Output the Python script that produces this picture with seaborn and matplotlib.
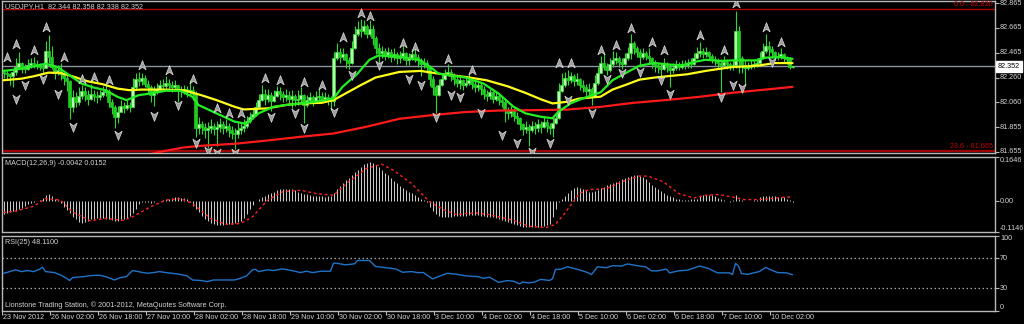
import numpy as np
import pandas as pd
import matplotlib
matplotlib.use("Agg")
import matplotlib.pyplot as plt
from matplotlib.path import Path
from matplotlib.transforms import blended_transform_factory
import seaborn as sns

# ---------------- data (prices in pips relative to 82.000, 1 pip = 0.001) -------------
open_first_pips = 310
close_pips = [
    300, 290, 270, 310, 350, 380, 340, 330, 360, 380, 370, 360, 350, 340, 480, 430,
    350, 300, 320, 290, 260, 230, 20, 100, 60, 110, 150, 120, 90, 130, 110, 100,
    120, 140, 150, 60, 20, -60, -20, 30, 10, 40, 20, 180, 250, 230, 260, 210,
    180, 120, 150, 170, 200, 190, 220, 200, 180, 200, 160, 150, 170, 140, 160, 130,
    -150, -120, -140, -170, -150, -130, -160, -140, -120, -150, -130, -170, -190, -200, -170, -150,
    -130, -90, -60, -40, 20, 80, 130, 90, 120, 70, 110, 150, 130, 100, 120, 90,
    110, 80, 90, 120, 40, 80, 100, 70, 100, 110, 90, 100, 80, 70, 420, 470,
    430, 450, 400, 380, 500, 620, 660, 640, 680, 620, 660, 580, 500, 460, 480, 440,
    470, 430, 450, 420, 430, 460, 400, 420, 450, 430, 400, 370, 380, 350, 250, 180,
    120, 200, 250, 290, 310, 270, 250, 220, 240, 200, 220, 240, 210, 180, 200, 170,
    130, 110, 140, 90, 110, 80, 60, 0, -30, -10, -50, -70, -120, -160, -140, -170,
    -130, -150, -120, -140, -100, -130, -150, -110, -70, 150, 200, 260, 240, 270, 230, 250,
    200, 180, 150, 170, 110, 220, 300, 380, 350, 320, 370, 400, 420, 390, 370, 420,
    460, 540, 500, 470, 430, 460, 440, 420, 380, 360, 350, 330, 370, 350, 320, 340,
    360, 350, 370, 360, 380, 370, 420, 460, 480, 450, 470, 440, 410, 400, 380, 360,
    390, 370, 350, 360, 640, 420, 360, 340, 350, 360, 370, 380, 420, 480, 520, 490,
    470, 440, 430, 450, 420, 410, 344, 352]
high_pips = [
    330, 320, 300, 330, 420, 470, 390, 370, 410, 420, 430, 400, 380, 370, 560, 610,
    520, 360, 360, 380, 300, 280, 240, 160, 140, 180, 200, 180, 160, 210, 160, 150,
    160, 190, 200, 170, 90, 40, 30, 80, 60, 80, 60, 260, 300, 310, 300, 280,
    240, 200, 190, 220, 240, 250, 270, 250, 230, 240, 200, 190, 200, 190, 240, 190,
    150, -60, -90, -110, -100, -80, -110, -90, -70, -90, -80, -110, -130, -150, -100, -110,
    -80, -50, -20, 10, 60, 130, 200, 170, 170, 140, 160, 190, 180, 150, 170, 150,
    160, 130, 160, 180, 130, 120, 140, 120, 150, 170, 140, 140, 130, 110, 470, 540,
    500, 500, 460, 430, 560, 680, 720, 740, 730, 700, 730, 690, 600, 540, 520, 500,
    510, 490, 500, 470, 480, 530, 470, 460, 490, 510, 450, 420, 420, 400, 360, 270,
    200, 250, 300, 330, 370, 330, 300, 280, 270, 250, 260, 300, 260, 230, 240, 220,
    190, 160, 170, 150, 150, 130, 110, 80, 20, 30, 10, -20, -60, -110, -90, -120,
    -90, -100, -80, -90, -50, -80, -110, -60, -30, 220, 300, 310, 320, 310, 290, 300,
    260, 240, 210, 220, 180, 280, 350, 440, 460, 380, 420, 480, 470, 440, 420, 460,
    510, 620, 560, 520, 490, 500, 480, 500, 430, 400, 390, 380, 420, 390, 370, 380,
    400, 390, 400, 400, 410, 420, 460, 510, 550, 500, 510, 480, 450, 440, 420, 410,
    440, 410, 390, 400, 806, 680, 440, 400, 390, 400, 400, 420, 470, 540, 620, 560,
    520, 480, 470, 500, 460, 440, 430, 358]
low_pips = [
    260, 240, 200, 180, 280, 330, 300, 300, 320, 340, 340, 330, 320, 300, 340, 380,
    330, 250, 280, 240, 200, 150, -80, -20, 20, 40, 90, 70, 40, 80, 70, 50,
    80, 100, 110, 20, -40, -150, -110, -10, -30, 0, -20, 20, 170, 190, 200, 180,
    130, 60, 30, 130, 150, 150, 170, 170, 140, 160, 60, 100, 130, 100, 120, 80,
    -220, -200, -200, -230, -310, -190, -210, -300, -180, -200, -180, -220, -240, -320, -230, -200,
    -180, -150, -110, -80, -50, 10, 70, 40, 60, -10, 60, 100, 80, 60, 70, 50,
    10, 30, 40, 60, -110, 20, 50, 30, 60, 70, 60, 70, 40, 0, 30, 400,
    380, 400, 340, 330, 370, 490, 600, 590, 620, 580, 600, 530, 450, 380, 420, 400,
    420, 390, 400, 370, 380, 400, 360, 360, 400, 390, 350, 270, 340, 300, 190, 120,
    -30, 110, 190, 240, 270, 230, 200, 180, 170, 160, 180, 200, 170, 140, 150, 120,
    90, 70, 90, 50, 70, 40, 20, -100, -80, -60, -90, -120, -170, -210, -190, -300,
    -180, -200, -180, -190, -150, -180, -200, -220, -120, -80, 140, 180, 200, 220, 190, 200,
    160, 140, 100, 120, 40, 100, 200, 300, 320, 280, 310, 350, 370, 350, 330, 360,
    400, 410, 450, 430, 350, 410, 400, 380, 340, 310, 300, 260, 320, 310, 180, 300,
    320, 320, 330, 330, 340, 340, 360, 410, 430, 420, 430, 410, 380, 360, 340, 140,
    350, 330, 320, 320, 340, 300, 300, 200, 320, 330, 340, 350, 370, 410, 460, 440,
    420, 400, 400, 410, 390, 370, 330, 338]

# moving averages (bar index, pips)
ma_fast_bars = [0, 6, 10, 14, 18, 22, 26, 30, 34, 38, 41, 45, 49, 54, 59, 63, 65, 71, 77, 81,
                85, 90, 94, 99, 104, 110, 113, 118, 122, 125, 132, 139, 143, 145, 154, 160, 165, 170, 174, 179,
                183, 185, 189, 193, 199, 203, 208, 212, 217, 221, 226, 230, 234, 239, 243, 248, 251, 254, 259, 263]
ma_fast_vals = [315, 333, 352, 374, 347, 280, 212, 180, 158, 104, 77, 117, 131, 153, 153, 104, 37, -31, -98, -117,
                -31, 23, 37, 50, 64, 90, 185, 293, 406, 441, 433, 401, 333, 293, 261, 212, 131, 23, -31, -58,
                -71, -17, 50, 90, 140, 239, 306, 358, 379, 369, 360, 387, 406, 396, 401, 401, 401, 423, 428, 414]
ma_slow_bars = [0, 6, 10, 15, 19, 23, 28, 33, 38, 42, 46, 53, 60, 66, 71, 77, 80, 88, 94, 99,
                106, 110, 114, 119, 124, 132, 139, 145, 154, 161, 168, 174, 179, 183, 188, 192, 199, 203, 208, 212,
                217, 221, 228, 234, 239, 243, 248, 252, 257, 263]
ma_slow_vals = [239, 252, 271, 301, 298, 271, 231, 207, 171, 158, 163, 163, 158, 117, 77, 23, 1, 10, 37, 50,
                55, 77, 131, 198, 261, 307, 315, 293, 266, 239, 190, 136, 85, 50, 64, 90, 105, 163, 207, 244,
                261, 271, 288, 315, 333, 347, 352, 360, 379, 379]
ma_long_bars = [40, 48, 53, 60, 66, 77, 88, 99, 110, 121, 132, 143, 154, 165, 176, 188, 199, 210, 221, 232, 243, 254, 263]
ma_long_vals = [-400, -368, -341, -309, -295, -279, -252, -222, -195, -140, -75, -45, -20, -8, -5, 0, 22, 55, 78, 104, 137, 163, 185]

# fractals (bar index, pips)
fractal_up_bars = [1, 4, 10, 14, 20, 26, 30, 35, 46, 55, 63, 71, 75, 79, 87, 92, 100, 106, 113, 119, 122,
                   133, 137, 148, 156, 185, 189, 199, 204, 209, 216, 220, 232, 240, 244, 254, 259]
fractal_up_vals = [428, 536, 482, 671, 428, 252, 266, 239, 360, 320, 252, 10, -31, -26, 261, 244, 225, 199, 592, 784, 765,
                   544, 509, 415, 320, 379, 379, 482, 523, 663, 550, 482, 609, 482, 865, 676, 550]
fractal_dn_bars = [4, 7, 13, 18, 23, 38, 50, 58, 64, 68, 71, 77, 89, 97, 100, 110, 116, 125, 135, 139, 144,
                   149, 152, 159, 166, 171, 176, 182, 188, 196, 201, 206, 212, 219, 222, 239, 243, 246, 256]
fractal_dn_vals = [90, 198, 252, 131, -139, -206, -53, 37, -274, -341, -350, -355, -58, -31, -152, -17, 280, 360, 252, 198, -63,
                   117, 104, -31, -206, -274, -347, -274, 82, -26, 250, 298, 307, 239, 126, 104, 198, 172, 387]

# MACD histogram (per bar, in 0.001) and signal line (bar, 0.001)
macd_hist = [
    -46, -44, -42, -38, -35, -30, -25, -18, -12, -6, -2, 2, 4, 12, 22, 28,
    20, 10, 4, -8, -20, -32, -45, -58, -68, -76, -80, -78, -72, -68, -66, -64,
    -62, -64, -66, -68, -70, -72, -74, -70, -66, -62, -56, -45, -28, -12, -4, -2,
    -4, -6, -3, 0, 2, 6, 8, 10, 12, 14, 14, 13, 12, 8, -4, -18,
    -30, -42, -55, -66, -74, -80, -86, -88, -89, -88, -86, -85, -84, -82, -78, -74,
    -62, -46, -30, -14, 2, 10, 16, 20, 26, 30, 34, 40, 44, 46, 47, 46,
    44, 40, 36, 32, 28, 26, 22, 20, 19, 18, 18, 17, 18, 20, 30, 45,
    55, 66, 78, 88, 98, 108, 118, 128, 138, 144, 146, 144, 136, 126, 116, 106,
    96, 86, 76, 66, 58, 50, 42, 36, 30, 22, 16, 10, 4, -4, -22, -38,
    -48, -54, -58, -60, -60, -58, -56, -54, -54, -56, -54, -52, -50, -50, -52, -54,
    -56, -58, -58, -60, -62, -66, -70, -74, -78, -80, -84, -88, -92, -95, -96, -96,
    -96, -96, -95, -94, -92, -88, -84, -60, -30, -4, 8, 20, 32, 42, 50, 52,
    50, 46, 40, 36, 34, 38, 42, 48, 54, 60, 64, 68, 72, 76, 82, 86,
    90, 94, 96, 96, 94, 90, 82, 72, 62, 54, 46, 38, 30, 24, 18, 14,
    10, 8, 6, 6, 6, 8, 8, 10, 18, 22, 24, 24, 22, 20, 12, 8,
    4, 2, -2, 4, 24, 10, 4, 2, 0, 2, 4, 4, 14, 18, 20, 20,
    18, 18, 16, 16, 14, 8, 4, -4]
signal_bars = [0, 4, 10, 14, 19, 23, 29, 34, 40, 43, 49, 54, 59, 63, 69, 74, 79, 83, 88, 93,
               99, 104, 110, 115, 121, 126, 130, 136, 142, 147, 151, 157, 162, 170, 175, 181, 184, 187, 192, 195,
               201, 206, 212, 215, 220, 225, 230, 234, 238, 243, 247, 252, 256, 261, 263]
signal_vals = [-42, -37, -19, 10, 4, -40, -73, -64, -71, -58, -21, 4, 10, -9, -64, -86, -83, -58, 4, 35,
               41, 29, 22, 72, 122, 138, 115, 66, -2, -33, -50, -43, -50, -71, -93, -98, -86, -46, 29, 43,
               47, 72, 94, 93, 72, 29, 12, 22, 25, 16, 6, 6, 10, 16, 15]

# RSI(25) (bar, value)
rsi_bars = [0, 1, 4, 6, 8, 10, 12, 13, 14, 17, 19, 21, 22, 23, 27, 29, 32, 34, 37, 39,
            41, 43, 46, 48, 50, 52, 54, 58, 61, 63, 66, 68, 70, 72, 77, 79, 81, 83, 84, 85,
            88, 90, 93, 96, 99, 101, 103, 106, 109, 110, 111, 114, 117, 118, 120, 122, 124, 127, 129, 131,
            133, 136, 138, 140, 143, 145, 148, 151, 154, 158, 160, 162, 165, 168, 170, 172, 173, 175, 177, 179,
            182, 183, 184, 186, 188, 191, 193, 195, 196, 198, 201, 203, 206, 208, 212, 214, 216, 218, 221, 222,
            225, 228, 232, 235, 238, 242, 243, 244, 245, 246, 248, 252, 254, 256, 258, 261, 263]
rsi_vals = [50, 50.9, 54.5, 52.2, 53.6, 52.2, 55.3, 58, 52.2, 50.9, 47.8, 43.4, 40.3, 44.2, 45.6, 46.9, 47.4, 45.6, 41.1, 44.2,
            45.6, 53.6, 51.3, 50, 50.9, 52.2, 50.9, 49.1, 46.9, 41.1, 40.3, 38.9, 41.1, 41.1, 41.1, 43.4, 46.5, 54.5, 55.3, 52.2,
            54.5, 53.6, 55.8, 53.6, 50.9, 52.7, 50.9, 52.7, 52.7, 63.3, 63.3, 61.1, 62.5, 66.9, 66.9, 66.9, 58.9, 57.6, 56.7, 55.3,
            51.3, 52.2, 50.9, 50.9, 42.5, 45.6, 50, 48.7, 46.5, 45.6, 43.4, 44.7, 38, 40.3, 39.5, 35.9, 38.2, 37.3, 38.2, 41.8,
            40.5, 42.7, 55, 55.5, 58.6, 55.5, 53.2, 50.5, 48.2, 58.6, 57.3, 60, 59.5, 62.3, 59.5, 58.6, 53.2, 53.2, 55.5, 50.5,
            53.2, 54.1, 59.5, 56.4, 50.5, 50.5, 48.2, 63.2, 59.5, 49.5, 48.6, 52.3, 57.7, 54.1, 50.9, 50.5, 48.11]

# axis labels
price_ticks = [82.865, 82.665, 82.465, 82.260, 82.060, 81.855, 81.655]
current_price = 82.352
fib_levels = [82.820, 81.665]
fib_labels = ["0.0 - 82.820", "23.6 - 81.665"]
time_tick_bars = [0, 16, 32, 48, 64, 80, 96, 112, 128, 144, 160, 176, 192, 208, 224, 240, 256]
time_labels = ["23 Nov 2012", "26 Nov 02:00", "26 Nov 18:00", "27 Nov 10:00", "28 Nov 02:00",
               "28 Nov 18:00", "29 Nov 10:00", "30 Nov 02:00", "30 Nov 18:00", "3 Dec 10:00",
               "4 Dec 02:00", "4 Dec 18:00", "5 Dec 10:00", "6 Dec 02:00", "6 Dec 18:00",
               "7 Dec 10:00", "10 Dec 02:00"]
title_text = "USDJPY,H1  82.344 82.358 82.338 82.352"
macd_text = "MACD(12,26,9) -0.0042 0.0152"
rsi_text = "RSI(25) 48.1100"
copyright_text = "Lionstone Trading Station, \u00a9 2001-2012, MetaQuotes Software Corp."

# ---------------- style ---------------------------------------------------------------
sns.set_style("dark")
plt.rcParams['font.family'] = ['Liberation Sans', 'DejaVu Sans']
FS = 5.2
TXT = '#d4d4d4'
FRAME = '#b8b8b8'

W, H = 1024, 324
fig = plt.figure(figsize=(W / 100, H / 100), dpi=100, facecolor='black')


def add_ax(x0, y0, x1, y1):
    a = fig.add_axes([x0 / W, 1 - y1 / H, (x1 - x0) / W, (y1 - y0) / H])
    a.set_facecolor('black')
    for s in a.spines.values():
        s.set_color(FRAME)
        s.set_linewidth(1.0)
    a.set_xlim(-0.5, 330.5)
    a.grid(False)
    a.tick_params(axis='x', which='both', bottom=False, labelbottom=False)
    a.tick_params(axis='y', which='both', left=False, labelleft=False, right=True, length=3,
                  color=FRAME, labelright=False)
    return a


ax_p = add_ax(2, 1, 995, 153)
ax_m = add_ax(2, 157, 995, 232)
ax_r = add_ax(2, 235.5, 995, 311)

# ---------------- price panel ---------------------------------------------------------
n = len(close_pips)
bars = np.arange(n)
close = 82 + np.array(close_pips) / 1000
high = 82 + np.array(high_pips) / 1000
low = 82 + np.array(low_pips) / 1000
open_ = np.concatenate([[82 + open_first_pips / 1000], close[:-1]])
df = pd.DataFrame({'bar': bars, 'open': open_, 'high': high, 'low': low, 'close': close})

ax_p.set_ylim(81.646, 82.885)
up = df['close'] >= df['open']
ax_p.vlines(df['bar'], df['low'], df['high'], color='#2fd82f', linewidth=0.8, zorder=2)
ax_p.bar(df['bar'][up], (df['close'] - df['open'])[up], bottom=df['open'][up], width=0.7,
         color='#b8ffb0', edgecolor='#33e633', linewidth=0.5, zorder=2.1)
ax_p.bar(df['bar'][~up], (df['open'] - df['close'])[~up], bottom=df['close'][~up], width=0.7,
         color='#22cc22', edgecolor='#22cc22', linewidth=0.5, zorder=2.1)

# horizontal levels
ax_p.axhline(current_price, color='#8a949e', linewidth=1.0, zorder=1)
ax_p.axhline(fib_levels[0], color='#b00000', linewidth=1.0, zorder=1)
ax_p.axhline(fib_levels[1], color='#a00000', linewidth=1.6, zorder=1)

# moving averages
ma_specs = [(ma_long_bars, ma_long_vals, '#ff1a1a'),
            (ma_slow_bars, ma_slow_vals, '#ffff1a'),
            (ma_fast_bars, ma_fast_vals, '#22ee22')]
for xs, ys, col in ma_specs:
    sns.lineplot(x=xs, y=82 + np.array(ys) / 1000, ax=ax_p, color=col, linewidth=1.6,
                 estimator=None, sort=False, zorder=3)

# fractal arrows
up_arrow = Path([(0, 1), (0.75, -0.9), (0, -0.35), (-0.75, -0.9), (0, 1)],
                [Path.MOVETO, Path.LINETO, Path.LINETO, Path.LINETO, Path.CLOSEPOLY])
dn_arrow = Path([(0, -1), (0.75, 0.9), (0, 0.35), (-0.75, 0.9), (0, -1)],
                [Path.MOVETO, Path.LINETO, Path.LINETO, Path.LINETO, Path.CLOSEPOLY])
ax_p.plot(fractal_up_bars, 82 + np.array(fractal_up_vals) / 1000, linestyle='none', marker=up_arrow,
          markersize=7, markerfacecolor='#9c9c9c', markeredgecolor='#dcdcdc', markeredgewidth=0.5, zorder=4)
ax_p.plot(fractal_dn_bars, 82 + np.array(fractal_dn_vals) / 1000, linestyle='none', marker=dn_arrow,
          markersize=7, markerfacecolor='#9c9c9c', markeredgecolor='#dcdcdc', markeredgewidth=0.5, zorder=4)

ax_p.set_yticks(price_ticks)
tr_p = blended_transform_factory(ax_p.transAxes, ax_p.transData)
for v in price_ticks:
    ax_p.text(1.005, v, f"{v:.3f}", transform=tr_p, ha='left', va='center', fontsize=FS, color=TXT)
ax_p.text(1.003, current_price, f"{current_price:.3f}", transform=tr_p, ha='left', va='center',
          fontsize=FS, color='black',
          bbox=dict(boxstyle='square,pad=0.25', facecolor='white', edgecolor='white'))
ax_p.text(0.998, fib_levels[0] + 0.004, fib_labels[0], transform=tr_p, ha='right', va='bottom',
          fontsize=FS, color='#c80000')
ax_p.text(0.998, fib_levels[1] + 0.004, fib_labels[1], transform=tr_p, ha='right', va='bottom',
          fontsize=FS, color='#c80000')
ax_p.text(3 / 993, 1 - 6 / 152, title_text, transform=ax_p.transAxes, ha='left', va='center',
          fontsize=FS, color=TXT)

# ---------------- MACD panel ----------------------------------------------------------
ax_m.set_ylim(-0.1146, 0.1646)
macd = np.array(macd_hist) / 1000
ax_m.vlines(bars, 0, macd, color='#c8c8c8', linewidth=0.72, zorder=2)
sns.lineplot(x=signal_bars, y=np.array(signal_vals) / 1000, ax=ax_m, color='#ff2020',
             linewidth=1.0, linestyle=(0, (2, 2)), estimator=None, sort=False, zorder=3)
ax_m.set_yticks([0.1646, 0.0, -0.1146])
tr_m = blended_transform_factory(ax_m.transAxes, ax_m.transData)
ax_m.text(1.005, 0.1646, "0.1646", transform=tr_m, ha='left', va='top', fontsize=FS, color=TXT)
ax_m.text(1.005, 0.0, "0.00", transform=tr_m, ha='left', va='center', fontsize=FS, color=TXT)
ax_m.text(1.005, -0.1146, "-0.1146", transform=tr_m, ha='left', va='bottom', fontsize=FS, color=TXT)
ax_m.text(3 / 993, 1 - 7 / 75, macd_text, transform=ax_m.transAxes, ha='left', va='center',
          fontsize=FS, color=TXT)

# ---------------- RSI panel -----------------------------------------------------------
ax_r.set_ylim(0, 100)
ax_r.axhline(70, color='#a8a8a8', linewidth=0.9, linestyle=(0, (1.2, 2)), zorder=1)
ax_r.axhline(30, color='#a8a8a8', linewidth=0.9, linestyle=(0, (1.2, 2)), zorder=1)
sns.lineplot(x=rsi_bars, y=rsi_vals, ax=ax_r, color='#1f74c8', linewidth=1.0,
             estimator=None, sort=False, zorder=3)
ax_r.set_yticks([100, 70, 30, 0])
tr_r = blended_transform_factory(ax_r.transAxes, ax_r.transData)
ax_r.text(1.005, 100, "100", transform=tr_r, ha='left', va='top', fontsize=FS, color=TXT)
ax_r.text(1.005, 70, "70", transform=tr_r, ha='left', va='center', fontsize=FS, color=TXT)
ax_r.text(1.005, 30, "30", transform=tr_r, ha='left', va='center', fontsize=FS, color=TXT)
ax_r.text(1.005, 0, "0", transform=tr_r, ha='left', va='bottom', fontsize=FS, color=TXT)
ax_r.text(3 / 993, 1 - 7 / 75.5, rsi_text, transform=ax_r.transAxes, ha='left', va='center',
          fontsize=FS, color=TXT)
ax_r.text(3 / 993, 6 / 75.5, copyright_text, transform=ax_r.transAxes, ha='left', va='center',
          fontsize=FS, color=TXT)

# time axis
ax_r.set_xticks([b - 0.5 for b in time_tick_bars])
ax_r.tick_params(axis='x', which='both', bottom=True, length=3, color=FRAME, direction='out',
                 labelbottom=False)
tr_x = blended_transform_factory(ax_r.transData, ax_r.transAxes)
for b, lab in zip(time_tick_bars, time_labels):
    ax_r.text(b - 0.3, -6.5 / 75.5, lab, transform=tr_x, ha='left', va='center',
              fontsize=FS, color=TXT)

for a in (ax_p, ax_m, ax_r):
    a.set_xlabel('')
    a.set_ylabel('')

fig.savefig('out.png', dpi=100, facecolor='black')
